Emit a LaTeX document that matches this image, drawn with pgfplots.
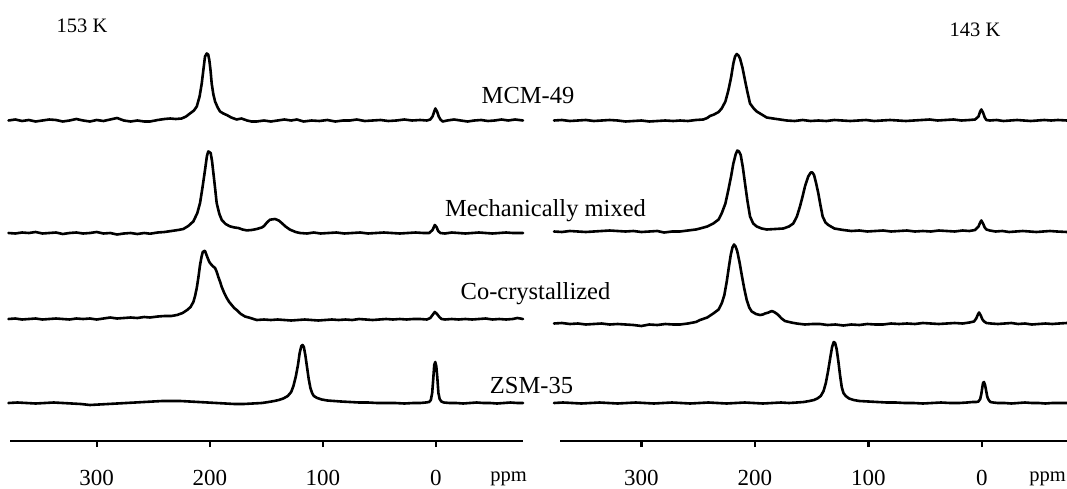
\documentclass[border=0pt]{standalone}
\usepackage{pgfplots}
\usepackage{pgfplotstable}
\pgfplotsset{compat=1.18}
\usepackage{fontspec}
\setmainfont{Liberation Serif}

% ---------------- left panel (153 K) ----------------
\pgfplotstableread[row sep=\\]{
x h\\
378 0\\ 372 1\\ 366 -0.5\\ 360 0.5\\ 354 -1\\ 348 0\\ 342 1\\ 336 0.5\\ 330 -1\\ 324 0\\ 318 1.5\\ 312 0\\ 306 -1\\ 300 0.5\\ 294 -0.5\\ 288 1\\ 282 2.5\\ 276 0\\ 270 -1\\ 264 0\\ 258 -1\\ 252.8 -1\\ 246 0.5\\ 240 1.5\\ 235 2\\ 230 1.5\\ 224.8 2\\ 221 4\\ 217.5 7\\ 214 10\\ 211.5 14\\ 209 24\\ 207.1 37\\ 205.5 52\\ 204.2 64\\ 202.7 67\\ 201.4 66\\ 200.4 60.5\\ 199.3 50\\ 198.3 37\\ 196.8 26\\ 195.3 19\\ 193 13\\ 190.9 9\\ 188 7\\ 185 5.5\\ 181 3\\ 176.2 1\\ 172 2\\ 167 0\\ 163 -1\\ 158.5 -1\\ 152 0\\ 146 -1\\ 140 0\\ 134 1\\ 128 0\\ 123 1\\ 117 -1\\ 110 0\\ 103 -0.5\\ 96 0.5\\ 89 -1\\ 82 0\\ 76 0\\ 70 1\\ 63 -0.5\\ 56 0\\ 49 0.5\\ 42 -0.5\\ 35 0\\ 28 1\\ 21 0\\ 14 0.5\\ 8 0\\ 5 1\\ 3 4\\ 1.5 9\\ 0.5 12\\ -1 9\\ -2.5 4\\ -4 1\\ -6 -1\\ -10 0\\ -16 1\\ -22 0\\ -28 -1\\ -34 0\\ -40 0.5\\ -46 -0.5\\ -52 0\\ -58 1\\ -64 0\\ -70 1\\ -77 0\\
}\Lone

\pgfplotstableread[row sep=\\]{
x h\\
378 0\\ 372 -0.5\\ 366 0.5\\ 360 0\\ 354 1\\ 348 -0.5\\ 342 0\\ 336 0.5\\ 330 -1\\ 324 0\\ 318 0.5\\ 312 -0.5\\ 306 0\\ 300 1\\ 294 -0.5\\ 288 0\\ 282 -1.5\\ 276 -0.5\\ 270 0\\ 264 -1\\ 258 0\\ 252.8 -0.7\\ 246 0.5\\ 240 1\\ 234 2\\ 228 3\\ 223.4 4\\ 219 7\\ 214.5 11.6\\ 211 20\\ 208.6 30\\ 206.5 45\\ 204.2 63\\ 202.5 77\\ 201.3 81.6\\ 199.2 80\\ 198 72\\ 196.8 60\\ 195.3 45\\ 193.9 30\\ 191.5 19\\ 189.4 13\\ 186 9\\ 182.1 6.6\\ 178 5.5\\ 174.8 5\\ 171 3.5\\ 167.3 2.6\\ 163 3\\ 158.5 4\\ 154 5.5\\ 152 7\\ 151.1 8.3\\ 149 11\\ 146.7 13.3\\ 142.3 14\\ 139 12.5\\ 136.4 10\\ 133 6.5\\ 129 3.3\\ 124 1\\ 120.2 0\\ 114 -0.5\\ 108 0.5\\ 102 -0.5\\ 95 0\\ 88 0.5\\ 81 -0.5\\ 74 0\\ 67 0.5\\ 60 -0.5\\ 53 0\\ 46 0.5\\ 39 0\\ 32 -0.5\\ 25 0\\ 18 0.5\\ 11 0\\ 6 0\\ 3 3\\ 1 8\\ -0.5 6\\ -2 2\\ -4 0\\ -8 -0.5\\ -14 0.5\\ -20 0\\ -26 -0.5\\ -32 0\\ -38 0.5\\ -44 0\\ -50 -0.5\\ -56 0\\ -62 0.5\\ -68 0\\ -77 0\\
}\Ltwo

\pgfplotstableread[row sep=\\]{
x h\\
378 0\\ 372 0.5\\ 366 -0.5\\ 360 0\\ 354 0.5\\ 348 -0.5\\ 342 0\\ 336 0.5\\ 330 0\\ 324 -0.5\\ 318 0.5\\ 312 0\\ 306 0.5\\ 300 -0.5\\ 294 0.5\\ 288 1.5\\ 282 0.5\\ 276 1\\ 270 1.5\\ 264 1\\ 258 2\\ 252.9 1.5\\ 246 2.5\\ 240 3\\ 234 3\\ 229 4\\ 224 6\\ 220 9\\ 217 12\\ 214.5 17\\ 213 23\\ 211.5 31\\ 210 42\\ 208.6 54\\ 207.3 62\\ 206.2 67\\ 204.8 68\\ 204.2 68\\ 203.2 65\\ 202.2 62\\ 200.8 58\\ 199.8 56\\ 197.5 53\\ 195.3 51\\ 193.8 47\\ 192.4 42\\ 190.8 37\\ 189.4 32\\ 187.2 26\\ 185 21\\ 182.8 17\\ 180.6 14\\ 178.4 11\\ 176.2 9\\ 172.5 5\\ 168.8 2.5\\ 164 1\\ 158.5 -1\\ 152 -0.5\\ 146 -1\\ 140 -0.5\\ 134 -1\\ 128 -1.5\\ 122 -1\\ 116 -0.5\\ 110 -1\\ 104 -1.5\\ 98 -1\\ 92 -0.5\\ 86 -1\\ 80 -0.5\\ 74 -1\\ 68 0\\ 62 -0.5\\ 56 -1\\ 50 -0.5\\ 44 0\\ 38 -0.5\\ 32 0\\ 26 -0.5\\ 20 0\\ 14 0\\ 8 -0.5\\ 5 1\\ 3 4\\ 1 7\\ -1 5\\ -3 2\\ -5 0\\ -8 -0.5\\ -14 0\\ -20 -0.5\\ -26 0\\ -32 -0.5\\ -38 0\\ -44 0.5\\ -50 -0.5\\ -56 0\\ -62 -0.5\\ -68 0\\ -72 1\\ -77 0\\
}\Lthree

\pgfplotstableread[row sep=\\]{
x h\\
378 0\\ 370 0.5\\ 362 0\\ 354 -0.5\\ 346 0\\ 338 0.5\\ 330 0\\ 322 -0.5\\ 314 -1\\ 306 -2\\ 298 -1.5\\ 290 -1\\ 282 -0.5\\ 274 0\\ 266 0.5\\ 258 1\\ 250 1.5\\ 242 2\\ 234 2\\ 226 2\\ 218 1.5\\ 210 1\\ 202 0.5\\ 194 0\\ 186 -0.5\\ 178 -1\\ 170 -1\\ 162 -0.5\\ 154 0\\ 148 1\\ 143 2\\ 139 3\\ 135 4.5\\ 131 7\\ 128 11\\ 126 17\\ 124 26\\ 122 38\\ 120.5 50\\ 119 57\\ 117.9 58\\ 116.8 56\\ 115.5 48\\ 114 36\\ 112.5 24\\ 111 15\\ 109.5 10\\ 108 7\\ 105 5\\ 101 3.5\\ 96 2.5\\ 90 2\\ 84 1.5\\ 76 1\\ 68 0.5\\ 60 0.5\\ 52 0\\ 44 0\\ 36 0\\ 28 -0.5\\ 20 0\\ 14 0\\ 9 0.5\\ 6 1\\ 4.5 3\\ 3.3 10\\ 2.3 25\\ 1.5 38\\ 0.6 41\\ -0.3 37\\ -1.2 26\\ -2.2 10\\ -3.3 4\\ -4.8 1.5\\ -7 0.5\\ -12 0\\ -18 0\\ -24 -0.5\\ -30 0\\ -36 0.5\\ -42 0\\ -48 0\\ -54 -0.5\\ -60 0\\ -66 0.5\\ -72 0\\ -77 0\\
}\Lfour

% ---------------- right panel (143 K) ----------------
\pgfplotstableread[row sep=\\]{
x h\\
377 0\\ 370 0.5\\ 363 -0.5\\ 356 0\\ 349 0.5\\ 342 -0.5\\ 335 0\\ 328 0.5\\ 321 0\\ 314 -1\\ 307 -0.5\\ 300 0\\ 293 -1\\ 286 -0.5\\ 279 0\\ 272 -0.5\\ 266 0\\ 259 -0.5\\ 252 0.5\\ 245.5 1\\ 242 2.5\\ 239.6 4.5\\ 236 6\\ 232 8.5\\ 229.3 12\\ 226 19\\ 223.4 30\\ 221 43\\ 219 57\\ 217.5 64\\ 216 66.5\\ 214.5 65\\ 213.1 62\\ 211 53\\ 208.7 40\\ 206.5 28\\ 204.3 17\\ 201 12\\ 198.4 9\\ 194 6\\ 189.6 3\\ 184 2\\ 177.9 1\\ 172 0\\ 165 -0.5\\ 158 0.5\\ 151 -0.5\\ 144 0\\ 137 -0.5\\ 130 0.5\\ 123 0\\ 116 -0.5\\ 109 0\\ 102 0.5\\ 95 -0.5\\ 88 0\\ 81 0.5\\ 74 0\\ 67 -0.5\\ 60 0\\ 53 0.5\\ 46 1\\ 39 0\\ 32 0.5\\ 25 1\\ 18 0\\ 11 0.5\\ 6 1\\ 3 4\\ 1.5 9\\ 0.5 11\\ -1 8\\ -2.5 3\\ -4 0.5\\ -7 0\\ -13 0.5\\ -19 -0.5\\ -25 0\\ -31 0.5\\ -37 0\\ -43 -0.5\\ -49 0\\ -55 0.5\\ -61 0\\ -67 0.5\\ -75 0\\
}\Rone

\pgfplotstableread[row sep=\\]{
x h\\
377 0\\ 370 -0.5\\ 363 0.5\\ 356 0\\ 349 -0.5\\ 342 0\\ 335 0.5\\ 328 1\\ 321 0.5\\ 314 0\\ 307 0.5\\ 300 -0.5\\ 293 0\\ 286 0.5\\ 280 -1\\ 273 0\\ 266 0\\ 259 1\\ 252 2\\ 248.4 3\\ 242 5\\ 236.7 8\\ 232 12\\ 229.3 18\\ 226 28\\ 223.4 41.5\\ 221 55\\ 219 68\\ 217 77\\ 215.5 81\\ 214 80\\ 212.5 76.5\\ 210.6 64\\ 208.7 48\\ 206.5 30\\ 204.3 15\\ 201.5 8\\ 198.4 5\\ 194 3\\ 189.6 2\\ 182 2.5\\ 175 3\\ 170 5\\ 166.2 8\\ 163 15\\ 160.3 25\\ 158 35\\ 155.9 45\\ 153 55\\ 150.8 59\\ 149.3 59\\ 147.9 56.5\\ 146 48\\ 144.1 38\\ 142.2 26\\ 140.3 15\\ 137.8 9\\ 135.3 6.5\\ 130 3\\ 122.1 1.5\\ 115 0.5\\ 108 1\\ 101 0\\ 94 0.5\\ 87 1\\ 80 0\\ 73 0.5\\ 66 1\\ 59 0\\ 52 0.5\\ 45 0\\ 38 1\\ 31 0.5\\ 24 0\\ 17 1\\ 11 0.5\\ 6 1.5\\ 3 5\\ 1.5 9\\ 0.5 11\\ -1 8\\ -2.5 4\\ -4 2\\ -7 1\\ -12 0\\ -18 0.5\\ -24 -0.5\\ -30 0\\ -36 0.5\\ -42 0\\ -48 -0.5\\ -54 0\\ -60 0.5\\ -66 0\\ -75 -0.5\\
}\Rtwo

\pgfplotstableread[row sep=\\]{
x h\\
377 0\\ 370 0.5\\ 363 -0.5\\ 356 0\\ 349 -1\\ 342 -0.5\\ 335 0\\ 328 -1\\ 321 -0.5\\ 314 -1\\ 307 -1.5\\ 300 -2.5\\ 293 -1\\ 286 -1.5\\ 279 -0.5\\ 272 -1\\ 266 -1\\ 259 0\\ 252 1.5\\ 248.4 3.5\\ 242 6\\ 236.7 10\\ 232 14\\ 229.3 20\\ 227 28\\ 224.8 42\\ 223 56\\ 221.3 68.5\\ 219.8 76\\ 218.4 79\\ 217 77\\ 215.5 72\\ 213.5 61\\ 211.6 48.5\\ 209.4 35\\ 207.2 23.5\\ 205 16\\ 202.8 12\\ 199 9.5\\ 195.5 8.5\\ 193 9\\ 191.1 10\\ 188 11\\ 185.2 12.5\\ 183 11.5\\ 181 10\\ 179.4 8.5\\ 176.5 5\\ 173.5 2.5\\ 168 1\\ 163.2 0\\ 156 -1\\ 149 -0.5\\ 142.6 -0.5\\ 136 -1.5\\ 129 -1\\ 122 -2\\ 115 -1\\ 108 -1.5\\ 101 -0.5\\ 94 -1\\ 87 -1\\ 80 0\\ 73 -0.5\\ 66 0\\ 59 -0.5\\ 52 0.5\\ 45 0\\ 38 -0.5\\ 31 0\\ 24 0.5\\ 17 0\\ 11 1\\ 7 2\\ 5 5\\ 3.5 9\\ 2.5 11\\ 1 8\\ -0.5 4\\ -2 2\\ -4 0.5\\ -8 0\\ -14 -0.5\\ -20 0\\ -26 0.5\\ -32 -0.5\\ -38 0\\ -44 -1\\ -50 -0.5\\ -56 0\\ -62 -0.5\\ -68 0\\ -75 0.5\\
}\Rthree

\pgfplotstableread[row sep=\\]{
x h\\
377 0\\ 369 0.5\\ 361 0\\ 353 -0.5\\ 345 0\\ 337 0.5\\ 329 0\\ 321 -0.5\\ 313 0\\ 305 0.5\\ 297 0\\ 289 -0.5\\ 281 0\\ 273 0.5\\ 265 0\\ 257 -0.5\\ 249 0\\ 241 0.5\\ 233 0\\ 225 -0.5\\ 217 0\\ 209 0.5\\ 201 0\\ 193 -0.5\\ 185 0\\ 177 0.5\\ 170 0\\ 163 0.5\\ 157 1\\ 152 2\\ 148 3\\ 145 4.5\\ 142 7\\ 139.5 12\\ 137.5 20\\ 135.5 32\\ 133.5 46\\ 132 56\\ 130.5 61\\ 129.3 60\\ 128 54\\ 126.5 42\\ 125 28\\ 123.5 16\\ 122 10\\ 120 7\\ 117 4.5\\ 113 3\\ 108 2\\ 100 1.5\\ 92 1\\ 84 0.5\\ 76 0.5\\ 68 0\\ 60 0\\ 52 -0.5\\ 44 0\\ 36 0.5\\ 28 0\\ 20 0\\ 13 0.5\\ 8 1\\ 5 1\\ 3 1.5\\ 1.5 4\\ 0.5 9\\ -0.3 15\\ -1 20\\ -1.8 21\\ -2.8 18\\ -3.8 12\\ -4.8 6\\ -6 3\\ -7.5 1\\ -10 0.5\\ -14 0\\ -20 0\\ -26 -0.5\\ -32 0\\ -38 0.5\\ -44 0\\ -50 0\\ -56 -0.5\\ -62 0\\ -68 0\\ -75 0\\
}\Rfour

\pgfplotsset{
  specaxis/.style={
    scale only axis, height=441pt, ymin=0, ymax=441,
    x dir=reverse, clip=false,
    axis x line*=bottom, hide y axis,
    axis line style={-, line width=2.4pt, black},
    xtick={0,100,200,300}, tick align=outside, major tick length=6pt,
    xtick style={line width=2.2pt, black},
    xticklabel style={anchor=base, inner sep=0pt, yshift=-38pt, font=\fontsize{23}{23}\selectfont},
    /pgf/number format/assume math mode=true,
  },
  spec/.style={black, line width=2.6pt, line join=round, line cap=round, no markers},
}

\begin{document}
\begin{tikzpicture}
\useasboundingbox (0,0) rectangle (1067pt,488pt);

\begin{axis}[specaxis, at={(10.3pt,47pt)}, anchor=south west,
  width=512.7pt, xmin=-77, xmax=376.4]
  \addplot[spec] table[x=x, y expr=\thisrow{h}+320.5] {\Lone};
  \addplot[spec] table[x=x, y expr=\thisrow{h}+208] {\Ltwo};
  \addplot[spec] table[x=x, y expr=\thisrow{h}+122] {\Lthree};
  \addplot[spec] table[x=x, y expr=\thisrow{h}+38] {\Lfour};
\end{axis}

\begin{axis}[specaxis, at={(559.7pt,47pt)}, anchor=south west,
  width=507.3pt, xmin=-75, xmax=372]
  \addplot[spec] table[x=x, y expr=\thisrow{h}+320.5] {\Rone};
  \addplot[spec] table[x=x, y expr=\thisrow{h}+209.5] {\Rtwo};
  \addplot[spec] table[x=x, y expr=\thisrow{h}+117.5] {\Rthree};
  \addplot[spec] table[x=x, y expr=\thisrow{h}+38] {\Rfour};
\end{axis}

\begin{scope}[every node/.style={anchor=base, inner sep=0pt, font=\fontsize{24.5}{28}\selectfont}]
  \node at (528pt,384pt) {MCM-49};
  \node at (545.5pt,272pt) {Mechanically mixed};
  \node at (535.5pt,189pt) {Co-crystallized};
  \node at (531.5pt,95pt) {ZSM-35};
\end{scope}
\begin{scope}[every node/.style={anchor=base, inner sep=0pt, font=\fontsize{20.5}{24}\selectfont}]
  \node at (82pt,455pt) {153 K};
  \node at (975pt,451pt) {143 K};
  \node at (508.5pt,7pt) {ppm};
  \node at (1047.5pt,7pt) {ppm};
\end{scope}
\end{tikzpicture}
\end{document}
